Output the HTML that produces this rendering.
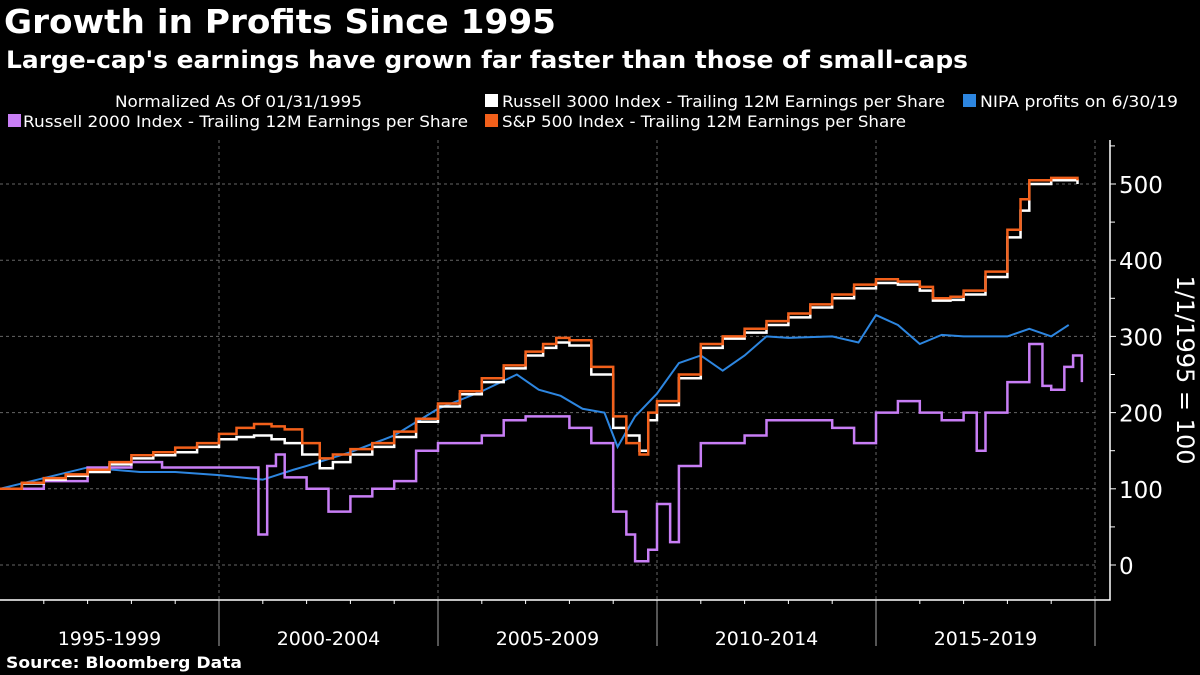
<!DOCTYPE html>
<html><head><meta charset="utf-8"><style>
body{margin:0;background:#000;width:1200px;height:675px;overflow:hidden;font-family:"Liberation Sans","DejaVu Sans",sans-serif;color:#fff}
svg{position:absolute;left:0;top:0}
</style></head><body>
<svg id="c" width="1200" height="675" font-family="DejaVu Sans, Liberation Sans, sans-serif">
<text x="4" y="33" font-size="33" font-weight="bold" fill="#fff" textLength="552" lengthAdjust="spacingAndGlyphs">Growth in Profits Since 1995</text>
<text x="6" y="68" font-size="24" font-weight="bold" fill="#fff" textLength="962" lengthAdjust="spacingAndGlyphs">Large-cap's earnings have grown far faster than those of small-caps</text>
<text x="6" y="668" font-size="16" font-weight="bold" fill="#fff" textLength="236" lengthAdjust="spacingAndGlyphs">Source: Bloomberg Data</text>
<g font-size="16" fill="#fff">
<text x="115" y="107" textLength="247" lengthAdjust="spacingAndGlyphs">Normalized As Of 01/31/1995</text>
<rect x="485" y="94" width="13" height="13" fill="#fff"/>
<text x="502" y="107" textLength="443" lengthAdjust="spacingAndGlyphs">Russell 3000 Index - Trailing 12M Earnings per Share</text>
<rect x="963" y="94" width="13" height="13" fill="#2d86e0"/>
<text x="980" y="107" textLength="198" lengthAdjust="spacingAndGlyphs">NIPA profits on 6/30/19</text>
<rect x="8" y="114" width="13" height="13" fill="#c87ef5"/>
<text x="23" y="127" textLength="445" lengthAdjust="spacingAndGlyphs">Russell 2000 Index - Trailing 12M Earnings per Share</text>
<rect x="485" y="114" width="13" height="13" fill="#f2601b"/>
<text x="502" y="127" textLength="404" lengthAdjust="spacingAndGlyphs">S&amp;P 500 Index - Trailing 12M Earnings per Share</text>
</g>
<g id="grid"></g><g id="axes"></g><g id="series"></g>
</svg>
<script>
const yTicks=[0,100,200,300,400,500];
const periodLabels=["1995-1999","2000-2004","2005-2009","2010-2014","2015-2019"];
const periodStarts=[1995,2000,2005,2010,2015,2020];
const spT=[1995,1995.5,1996,1996.5,1997,1997.5,1998,1998.5,1999,1999.5,2000,2000.4,2000.8,2001.2,2001.5,2001.9,2002.3,2002.6,2003,2003.5,2004,2004.5,2005,2005.5,2006,2006.5,2007,2007.4,2007.7,2008,2008.5,2009,2009.3,2009.6,2009.8,2010,2010.5,2011,2011.5,2012,2012.5,2013,2013.5,2014,2014.5,2015,2015.5,2016,2016.3,2016.7,2017,2017.5,2018,2018.3,2018.5,2019,2019.6];
const spV=[100,108,114,119,125,135,144,148,154,160,172,180,185,182,178,160,140,145,152,160,175,192,212,228,245,262,280,290,298,295,260,195,160,145,200,215,250,290,300,310,320,330,342,355,368,375,372,365,350,352,360,385,440,480,505,508,505];
const r3T=spT;
const r3V=[100,107,112,117,122,132,140,144,148,155,165,168,170,165,160,145,127,135,145,155,168,188,208,224,240,258,275,285,292,288,250,180,170,150,190,210,245,285,297,305,315,325,338,350,363,370,368,360,347,348,355,378,430,465,500,505,500];
const niT=[1995,1997,1998.2,1999,2000,2001,2001.7,2002,2003,2004,2005,2006,2006.8,2007.3,2007.8,2008.3,2008.8,2009.1,2009.5,2010,2010.5,2011,2011.5,2012,2012.5,2013,2014,2014.6,2015,2015.5,2016,2016.5,2017,2018,2018.5,2019,2019.4];
const niV=[100,128,122,122,118,112,125,130,148,170,205,228,250,230,222,205,200,155,195,225,265,275,255,275,300,298,300,292,328,315,290,302,300,300,310,300,315];
const r2T=[1995,1996,1997,1998,1998.7,1999.5,2000.5,2000.9,2001.05,2001.1,2001.3,2001.5,2002,2002.5,2003,2003.5,2004,2004.5,2005,2006,2006.5,2007,2008,2008.5,2009,2009.3,2009.5,2009.8,2010,2010.3,2010.5,2011,2012,2012.5,2013.5,2014,2014.5,2015,2015.5,2016,2016.5,2017,2017.3,2017.5,2018,2018.5,2018.8,2019,2019.3,2019.5,2019.7];
const r2V=[100,110,128,135,128,128,128,40,40,130,145,115,100,70,90,100,110,150,160,170,190,195,180,160,70,40,5,20,80,30,130,160,170,190,190,180,160,200,215,200,190,200,150,200,240,290,235,230,260,275,240];
const X=t=>(t-1995)*43.8, Y=v=>565-v*0.762;
const ns="http://www.w3.org/2000/svg";
function mk(tag,attrs,parent){const e=document.createElementNS(ns,tag);for(const k in attrs)e.setAttribute(k,attrs[k]);document.getElementById(parent).appendChild(e);return e;}
yTicks.forEach(v=>{const g=mk('line',{x1:0,x2:1098,y1:Y(v),y2:Y(v),stroke:'#666','stroke-dasharray':'3,3'},'grid');


const t=mk('text',{x:1119,y:Y(v)+9,fill:'#fff','font-size':23},'axes');t.textContent=v;


const tk=mk('line',{x1:1110,x2:1116,y1:Y(v),y2:Y(v),stroke:'#fff'},'axes');

});
for(let v=50;v<=550;v+=100){const tk=mk('line',{x1:1110,x2:1115,y1:Y(v),y2:Y(v),stroke:'#fff'},'axes');

}
periodStarts.forEach((p,i)=>{if(i>0){const g=mk('line',{x1:X(p),x2:X(p),y1:140,y2:600,stroke:'#666','stroke-dasharray':'3,3'},'grid');


const d=mk('line',{x1:X(p),x2:X(p),y1:600,y2:646,stroke:'#aaa'},'axes');

}});
for(let y=1996;y<2020;y++){if(y%5){const tk=mk('line',{x1:X(y),x2:X(y),y1:600,y2:604,stroke:'#fff'},'axes');

}}
periodLabels.forEach((l,i)=>{const t=mk('text',{x:(X(periodStarts[i])+X(periodStarts[i+1]))/2,y:645,fill:'#fff','font-size':19,'text-anchor':'middle'},'axes');t.textContent=l;

});
const ax=mk('path',{d:'M0 600H1110V140',stroke:'#fff',fill:'none','stroke-width':1.5},'axes');


const yt=mk('text',{transform:'translate(1177,370) rotate(90)',fill:'#fff','font-size':24,'text-anchor':'middle'},'axes');yt.textContent='1/1/1995 = 100';


function path(T,V,step){let d='M'+X(T[0])+' '+Y(V[0]);for(let i=1;i<T.length;i++){d+=step?' H'+X(T[i])+' V'+Y(V[i]):' L'+X(T[i])+' '+Y(V[i]);}return d;}
const s1=mk('path',{d:path(niT,niV,false),stroke:'#2d86e0',fill:'none','stroke-width':2},'series');


const s2=mk('path',{d:path(r2T,r2V,true),stroke:'#c87ef5',fill:'none','stroke-width':2.5},'series');


const s3=mk('path',{d:path(r3T,r3V,true),stroke:'#fff',fill:'none','stroke-width':2.5},'series');


const s4=mk('path',{d:path(spT,spV,true),stroke:'#f2601b',fill:'none','stroke-width':2.5},'series');


</script>
</body></html>
